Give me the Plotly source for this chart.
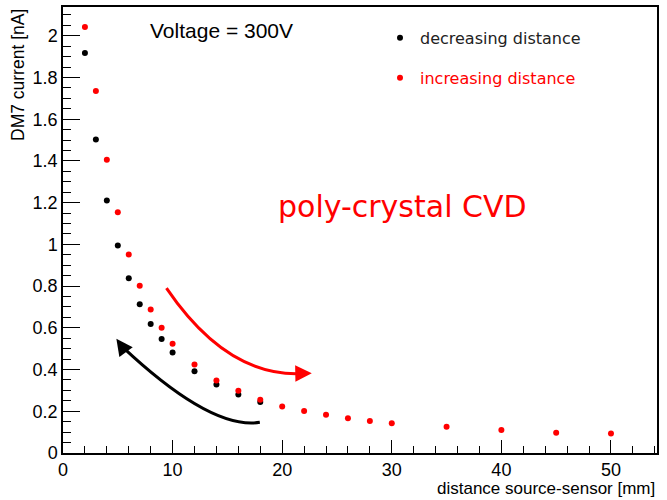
import plotly.graph_objects as go

# distance source-sensor [mm] and DM7 current [nA]
dec_x = [2, 3, 4, 5, 6, 7, 8, 9, 10, 12, 14, 16, 18]
dec_y = [1.917, 1.503, 1.210, 0.995, 0.838, 0.713, 0.618, 0.546, 0.482, 0.392, 0.328, 0.281, 0.244]
inc_x = [2, 3, 4, 5, 6, 7, 8, 9, 10, 12, 14, 16, 18, 20, 22, 24, 26, 28, 30, 35, 40, 45, 50]
inc_y = [2.042, 1.735, 1.406, 1.154, 0.952, 0.802, 0.688, 0.600, 0.524, 0.424, 0.347, 0.299,
         0.255, 0.223, 0.201, 0.183, 0.166, 0.153, 0.143, 0.126, 0.110, 0.097, 0.093]

series_names = ["decreasing distance", "increasing distance"]
x_title = "distance source-sensor [mm]"
y_title = "DM7 current [nA]"
voltage_label = "Voltage = 300V"
sample_label = "poly-crystal CVD"

RED = "#ff0000"
BLACK = "#000000"
tick_font = dict(family="Liberation Sans", size=18, color="black")

fig = go.Figure()
fig.add_trace(go.Scatter(
    x=dec_x, y=dec_y, mode="markers", name=series_names[0],
    marker=dict(color=BLACK, size=6), legendgroup="a"))
fig.add_trace(go.Scatter(
    x=inc_x, y=inc_y, mode="markers",
    name='<span style="color:#ff0000">' + series_names[1] + "</span>",
    marker=dict(color=RED, size=6), legendgroup="b"))

# curved arrows
fig.add_shape(type="path", xref="x", yref="y",
              path="M 9.44,0.79 Q 15.0,0.36 21.9,0.381",
              line=dict(color=RED, width=3))
fig.add_annotation(x=22.7, y=0.382, ax=21.6, ay=0.381, xref="x", yref="y",
                   axref="x", ayref="y", text="", showarrow=True,
                   arrowhead=2, arrowsize=1.1, arrowwidth=3, arrowcolor=RED)
fig.add_shape(type="path", xref="x", yref="y",
              path="M 17.96,0.147 Q 13.5,0.11 5.4,0.51",
              line=dict(color=BLACK, width=3))
fig.add_annotation(x=4.87, y=0.548, ax=5.6, ay=0.495, xref="x", yref="y",
                   axref="x", ayref="y", text="", showarrow=True,
                   arrowhead=2, arrowsize=1.1, arrowwidth=3, arrowcolor=BLACK)

# texts
fig.add_annotation(x=(148 - 63) / 594, y=(453 - 29) / 448, xref="paper", yref="paper",
                   xanchor="left", yanchor="middle", showarrow=False,
                   text=voltage_label,
                   font=dict(family="Liberation Sans", size=21, color="black"))
fig.add_annotation(x=(402 - 63) / 594, y=(453 - 205) / 448, xref="paper", yref="paper",
                   xanchor="center", yanchor="middle", showarrow=False,
                   text=sample_label,
                   font=dict(family="DejaVu Sans", size=30, color=RED))
fig.add_annotation(x=1, y=(453 - 489) / 448, xref="paper", yref="paper",
                   xanchor="right", yanchor="middle", showarrow=False,
                   text=x_title,
                   font=dict(family="Liberation Sans", size=17, color="black"))
fig.add_annotation(x=(18 - 63) / 594, y=1, xref="paper", yref="paper",
                   xanchor="center", yanchor="top", showarrow=False, textangle=-90,
                   text=y_title,
                   font=dict(family="Liberation Sans", size=17.5, color="black"))

fig.update_xaxes(range=[0, 54.2], showline=True, mirror=True, linecolor="black",
                 linewidth=1.5, ticks="inside", ticklen=13, tickwidth=1.2,
                 tickcolor="black", dtick=10, tick0=0, showgrid=False, zeroline=False,
                 tickfont=tick_font,
                 minor=dict(dtick=2, ticks="inside", ticklen=7, tickcolor="black",
                            tickwidth=1, showgrid=False))
fig.update_yaxes(range=[0, 2.138], showline=True, mirror=True, linecolor="black",
                 linewidth=1.5, ticks="inside", ticklen=17, tickwidth=1.2,
                 tickcolor="black", dtick=0.2, tick0=0, showgrid=False, zeroline=False,
                 tickfont=tick_font,
                 minor=dict(dtick=0.05, ticks="inside", ticklen=8, tickcolor="black",
                            tickwidth=1, showgrid=False))

fig.update_layout(
    width=667, height=500,
    margin=dict(l=63, r=10, t=5, b=47),
    paper_bgcolor="white", plot_bgcolor="white",
    showlegend=True,
    legend=dict(x=(380 - 63) / 594, y=(453 - 19) / 448, xanchor="left", yanchor="top",
                bgcolor="rgba(0,0,0,0)", borderwidth=0, tracegroupgap=16,
                font=dict(family="DejaVu Sans", size=16, color="#222222")),
)

fig.write_html("out.html")
